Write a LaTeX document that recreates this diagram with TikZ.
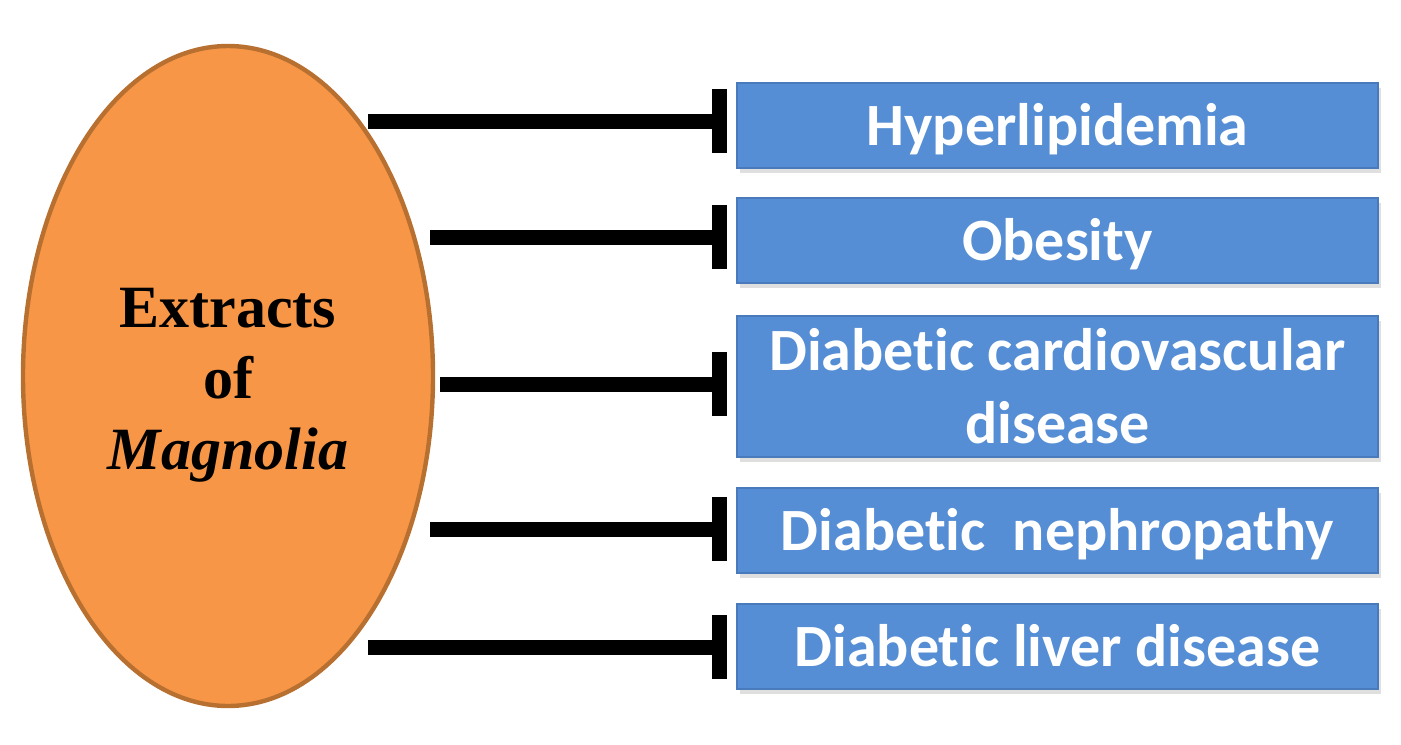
\documentclass[tikz,border=0pt]{standalone}
\usepackage{fontspec}
\setmainfont{Liberation Serif}
\newfontfamily\calibri[RawFeature={-liga;-clig;-dlig;-calt}]{Carlito}
\usetikzlibrary{shapes.geometric,arrows.meta,shadows}
\definecolor{magorange}{RGB}{247,150,70}
\definecolor{magborder}{RGB}{184,112,48}
\definecolor{boxblue}{RGB}{85,142,213}
\definecolor{boxborder}{RGB}{72,122,188}

\begin{document}
\begin{tikzpicture}[x=0.5pt,y=-0.5pt]
  \newcommand{\Xmag}[0]{ 228 }
  \newcommand{\Ymag}[0]{ 376 }
  \newcommand{\Xbox}[0]{ 1057.5 }

  \tikzstyle{inhibit} = [line width=7.5pt,-{Bar[width=32pt]},shorten >=4.5pt,draw=black]
  \tikzstyle{disease}=[
    rectangle,
    fill=boxblue,
    draw=boxborder,
    line width=1pt,
    minimum width=320.5pt,
    minimum height=42.5pt,
    inner sep=2pt,
    text height=24pt,
    text depth=4pt,
    align=center,
    text=white,
    font=\calibri\bfseries\fontsize{30}{36.5}\selectfont,
    drop shadow={shadow xshift=1.5pt,shadow yshift=-2.5pt,opacity=0.25},
  ]
  \tikzstyle{extract}=[
    ellipse,
    fill=magorange,
    draw=magborder,
    line width=2.2pt,
    minimum width=205pt,
    minimum height=330pt,
    inner sep=0pt,
  ]

  \useasboundingbox (0,0) rectangle (1401,744);

  % magnolia extracts
  \node[extract] (magnolia) at (\Xmag, \Ymag) {};
  \node[align=center,font=\bfseries\fontsize{30}{35.5}\selectfont] (magtext)
    at ([yshift=-4.5pt]magnolia.center) {Extracts\\of\\\textit{Magnolia}};

  % diseases
  \node[disease] (hyper)   at (\Xbox, 125.5) {Hyperlipidemia};
  \node[disease] (obesity) at (\Xbox, 240.5) {Obesity};
  \node[disease, minimum height=70.5pt, text height=60.5pt] (cardio) at (\Xbox, 386.5) {Diabetic cardiovascular\\disease};
  \node[disease] (nephro)  at (\Xbox, 530.5) {Diabetic\ \ nephropathy};
  \node[disease] (liver)   at (\Xbox, 646.5) {Diabetic liver disease};

  % line starts
  \coordinate (s hyper)   at (368, 121);
  \coordinate (s obesity) at (430, 237);
  \coordinate (s cardio)  at (440, 384);
  \coordinate (s nephro)  at (430, 529);
  \coordinate (s liver)   at (368, 647);

  % wiring
  \foreach \d in {hyper,obesity,cardio,nephro,liver}
    \draw[inhibit] (s \d) -- (s \d -| \d.west);
\end{tikzpicture}
\end{document}
